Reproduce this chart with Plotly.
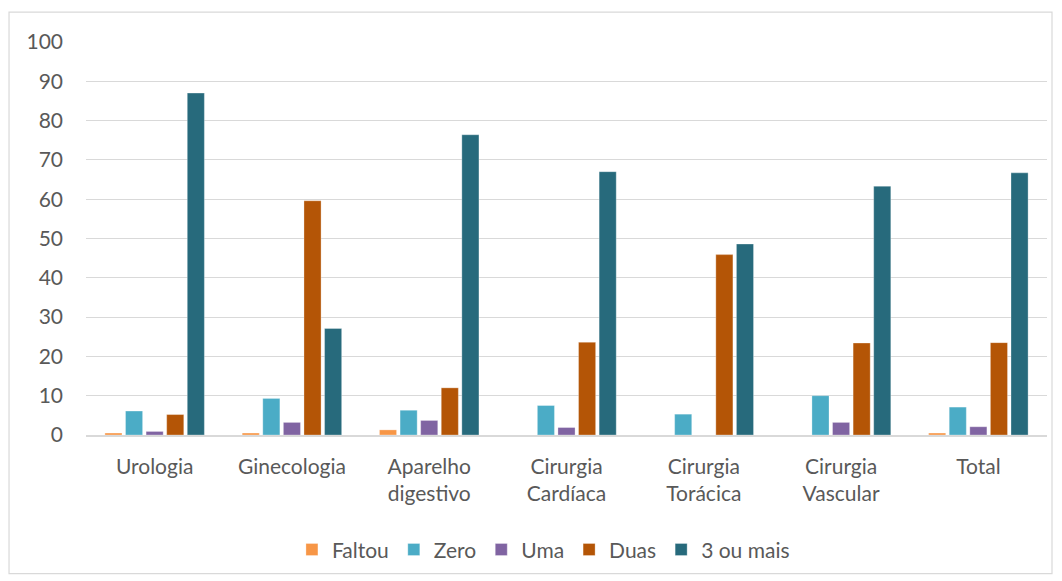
import plotly.graph_objects as go

categories = ["Urologia", "Ginecologia", "Aparelho<br>digestivo", "Cirurgia<br>Cardíaca",
              "Cirurgia<br>Torácica", "Cirurgia<br>Vascular", "Total"]
faltou = [0.5, 0.5, 1.3, 0, 0, 0, 0.5]
zero = [6.1, 9.3, 6.3, 7.5, 5.3, 10.0, 7.1]
uma = [0.9, 3.2, 3.7, 1.9, 0, 3.2, 2.1]
duas = [5.2, 59.6, 12.0, 23.6, 45.9, 23.4, 23.5]
tres_mais = [87.0, 27.1, 76.4, 67.0, 48.6, 63.3, 66.7]

series = [
    ("Faltou", faltou, "#F79646"),
    ("Zero", zero, "#4BACC6"),
    ("Uma", uma, "#8064A2"),
    ("Duas", duas, "#B45506"),
    ("3 ou mais", tres_mais, "#276A7C"),
]

fig = go.Figure()
for name, vals, color in series:
    fig.add_trace(go.Bar(
        name=name, x=categories, y=vals,
        marker=dict(color=color, line=dict(color="rgba(255,255,255,0.6)", width=0.5)),
    ))

font_family = "Lato, 'Open Sans', sans-serif"
FS = 21
fig.update_layout(
    width=1062, height=581,
    barmode="group", bargap=0.25, bargroupgap=0.17,
    paper_bgcolor="white", plot_bgcolor="white",
    margin=dict(l=86, r=15, t=42, b=145),
    font=dict(family=font_family, size=FS, color="#595959"),
    showlegend=True,
    legend=dict(orientation="h", x=0.476, xanchor="center", y=-0.289, yanchor="middle",
                font=dict(size=FS, color="#595959"), itemwidth=30, traceorder="normal"),
    xaxis=dict(showline=True, linecolor="#D9D9D9", linewidth=1.5, showgrid=False,
               ticks="", ticklabelstandoff=12, tickfont=dict(size=FS, color="#595959")),
    yaxis=dict(range=[0, 100], dtick=10, showgrid=True, gridcolor="#D9D9D9", gridwidth=1,
               zeroline=False, showline=False, ticks="", ticklabelstandoff=22,
               tickfont=dict(size=FS, color="#595959")),
    shapes=[dict(type="rect", xref="paper", yref="paper",
                 x0=-0.0801, x1=1.0052, y0=-0.3528, y1=1.0761,
                 line=dict(color="#D9D9D9", width=1.2), fillcolor="rgba(0,0,0,0)", layer="below")],
)

fig.write_html("out.html")
